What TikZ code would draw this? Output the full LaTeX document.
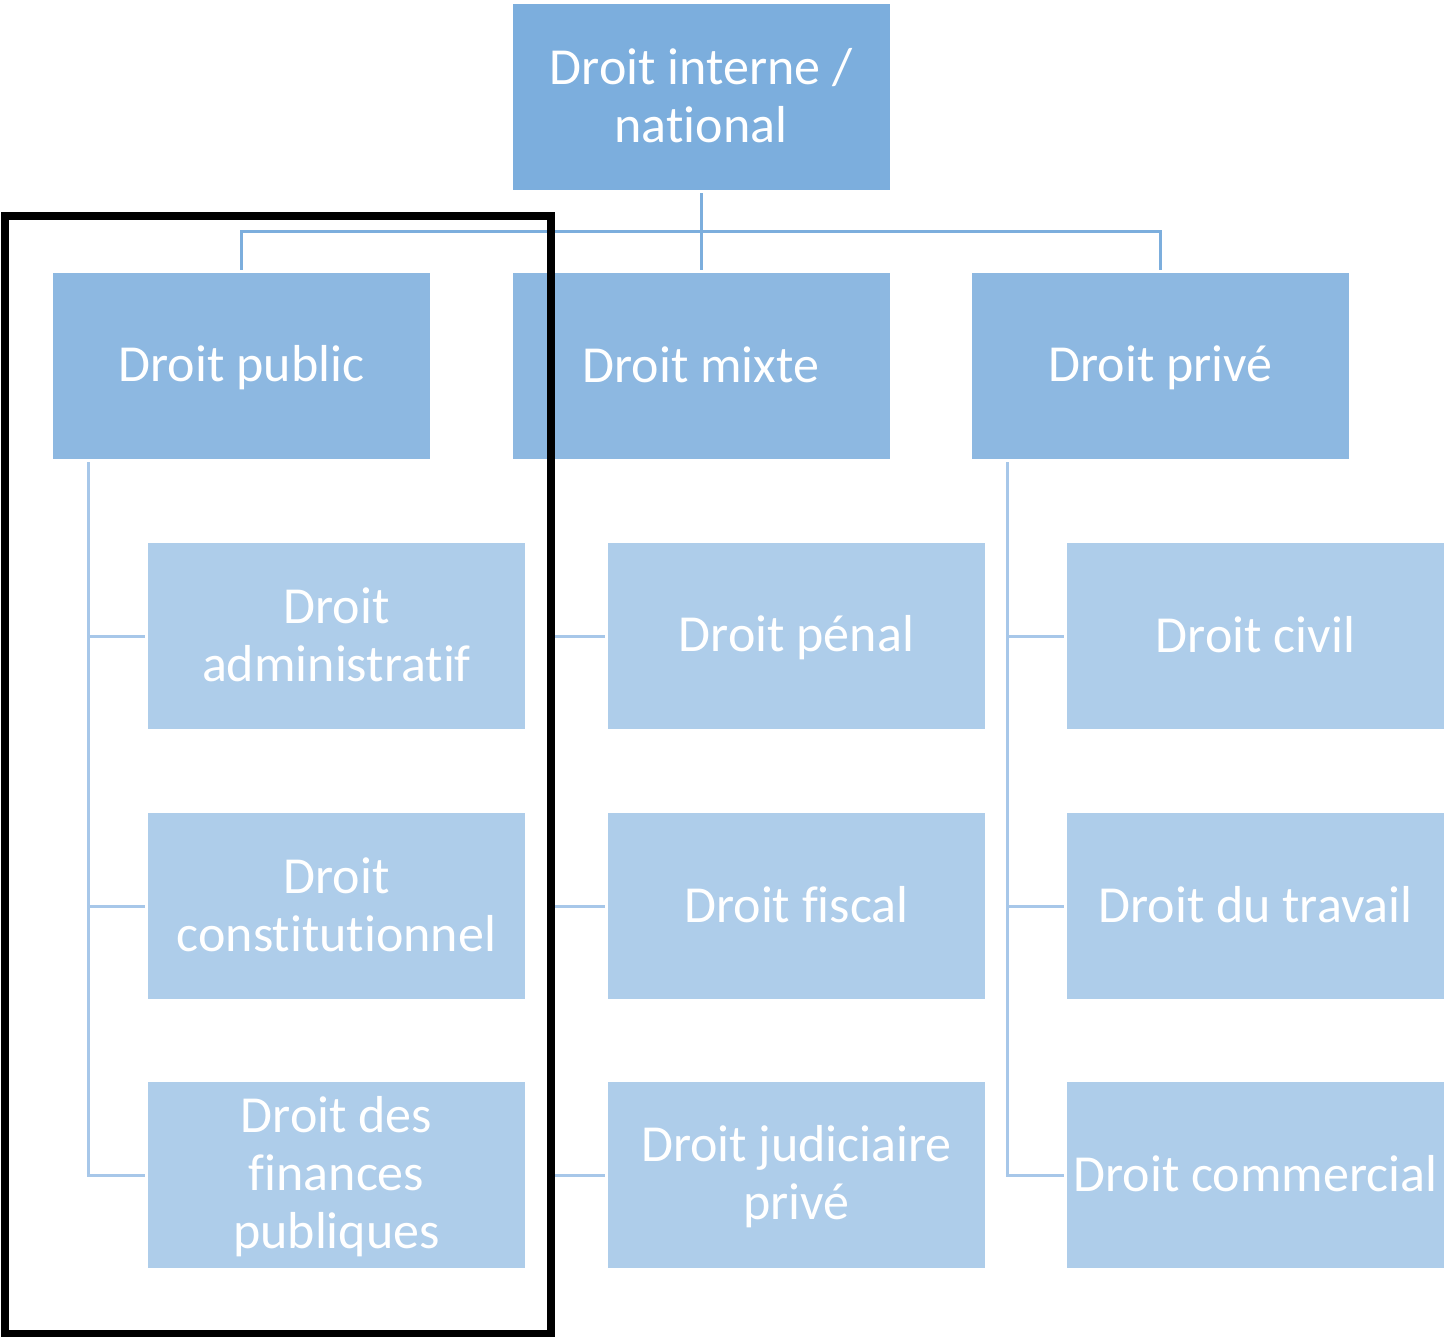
\documentclass[tikz,border=0pt]{standalone}
\usepackage{fontspec}
\setmainfont{Carlito}[Ligatures={NoCommon,NoRare,NoContextual}]
\usetikzlibrary{calc}
\definecolor{topc}{HTML}{7CAEDD}
\definecolor{midc}{HTML}{8DB8E1}
\definecolor{lowc}{HTML}{AECDEA}
\definecolor{linetop}{HTML}{7CAEDD}
\definecolor{linelow}{HTML}{A7C7E9}
\newcommand\ms{\rule[-0.1em]{0pt}{0.84em}}
\newcommand\nb{\kern0pt{}}
\tikzset{
  box/.style={minimum width=377pt, minimum height=186pt, inner sep=0pt, align=center,
    text=white, font=\fontsize{52}{58}\selectfont},
  topbox/.style={box, fill=topc},
  midbox/.style={box, fill=midc},
  lowbox/.style={box, fill=lowc},
  conntop/.style={draw=linetop, line width=3pt},
  connlow/.style={draw=linelow, line width=3pt},
  frame/.style={draw=black, line width=8pt, inner sep=0pt}
}
\begin{document}
\begin{tikzpicture}[x=1pt,y=-1pt]
\useasboundingbox (0,0) rectangle (1445,1336);
% level 1
\node[topbox] (top) at (701,97) {\ms Droit interne /\\\ms nat\nb ional};
% level 2
\node[midbox] (pub) at (241.5,366) {\ms Droit public};
\node[midbox] (mix) at (701,366) {\ms Droit mixte};
\node[midbox] (pri) at (1160.5,366) {\ms Droit privé};
% level 3
\node[lowbox] (adm) at (336.5,636) {\ms Droit\\\ms administrat\nb if};
\node[lowbox] (con) at (336.5,906) {\ms Droit\\\ms const\nb it\nb ut\nb ionnel};
\node[lowbox] (fin) at (336.5,1175) {\ms Droit des\\\ms f\nb inances\\\ms publiques};
\node[lowbox] (pen) at (796.5,636) {\ms Droit pénal};
\node[lowbox] (fis) at (796.5,906) {\ms Droit f\nb iscal};
\node[lowbox] (jud) at (796.5,1175) {\ms Droit judiciaire\\\ms privé};
\node[lowbox] (civ) at (1255.5,636) {\ms Droit civil};
\node[lowbox] (tra) at (1255.5,906) {\ms Droit du travail};
\node[lowbox] (com) at (1255.5,1175) {\ms Droit commercial};
% top connectors
\coordinate (hub) at (701,231.5);
\draw[conntop, shorten <=3pt] (top.south) -- (hub);
\draw[conntop, shorten <=3pt] (pub.north) |- (hub);
\draw[conntop, shorten <=3pt] (mix.north) -- (hub);
\draw[conntop, shorten <=3pt] (pri.north) |- (hub);
% lower connectors
\foreach \p/\a/\b/\c in {pub/adm/con/fin, mix/pen/fis/jud, pri/civ/tra/com}{
  \coordinate (\p-s) at ($(\p.south west)+(36,3)$);
  \draw[connlow, shorten >=3pt] (\p-s) |- (\a.west);
  \draw[connlow, shorten >=3pt] (\p-s) |- (\b.west);
  \draw[connlow, shorten >=3pt] (\p-s) |- (\c.west);
}
% selection frame
\node[frame, minimum width=546pt, minimum height=1118pt] (sel) at (278,774.5) {};
\end{tikzpicture}
\end{document}
